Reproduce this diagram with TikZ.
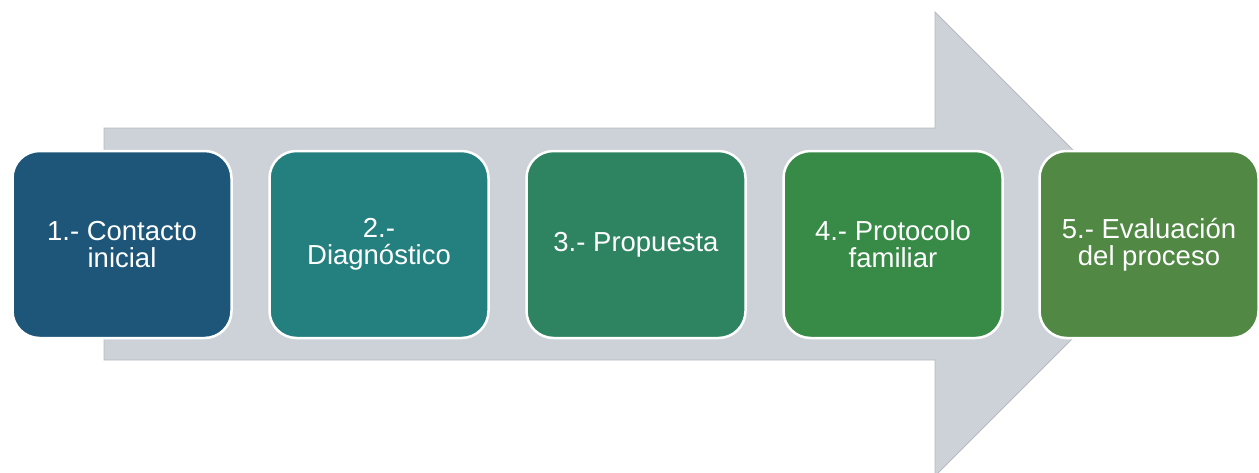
\documentclass[tikz,border=0pt]{standalone}
\usepackage{fontspec}
\setmainfont{Liberation Sans}
\definecolor{arrowgray}{HTML}{CDD2D8}
\definecolor{arrowedge}{HTML}{B7BBC1}
\definecolor{cA}{HTML}{1E5679}
\definecolor{cB}{HTML}{24807E}
\definecolor{cC}{HTML}{2E8461}
\definecolor{cD}{HTML}{388A47}
\definecolor{cE}{HTML}{508844}
\tikzset{
  stepbox/.style={rounded corners=27pt, draw=white, line width=2.5pt,
    minimum width=219pt, minimum height=187pt, inner sep=0pt,
    text=white, align=center,
    font=\fontsize{27.5}{27}\selectfont}
}
\begin{document}
\begin{tikzpicture}[x=1pt,y=-1pt]
\useasboundingbox (0,0) rectangle (1259,472);
\clip (0,0) rectangle (1259,472);
\fill[arrowgray, draw=arrowedge, line width=0.8pt]
  (104,128) -- (935,128) -- (935,12) -- (1167,244) -- (935,476)
  -- (935,360) -- (104,360) -- cycle;
\node[stepbox, fill=cA] (s1) at (122,244.5) {1.- Contacto\\inicial};
\node[stepbox, fill=cB] (s2) at (379,244.5) {2.-\\Diagnóstico};
\node[stepbox, fill=cC] (s3) at (636,244.5) {3.- Propuesta};
\node[stepbox, fill=cD] (s4) at (893,244.5) {4.- Protocolo\\familiar};
\node[stepbox, fill=cE] (s5) at (1149,244.5) {5.- Evaluación\\del proceso};
\end{tikzpicture}
\end{document}
